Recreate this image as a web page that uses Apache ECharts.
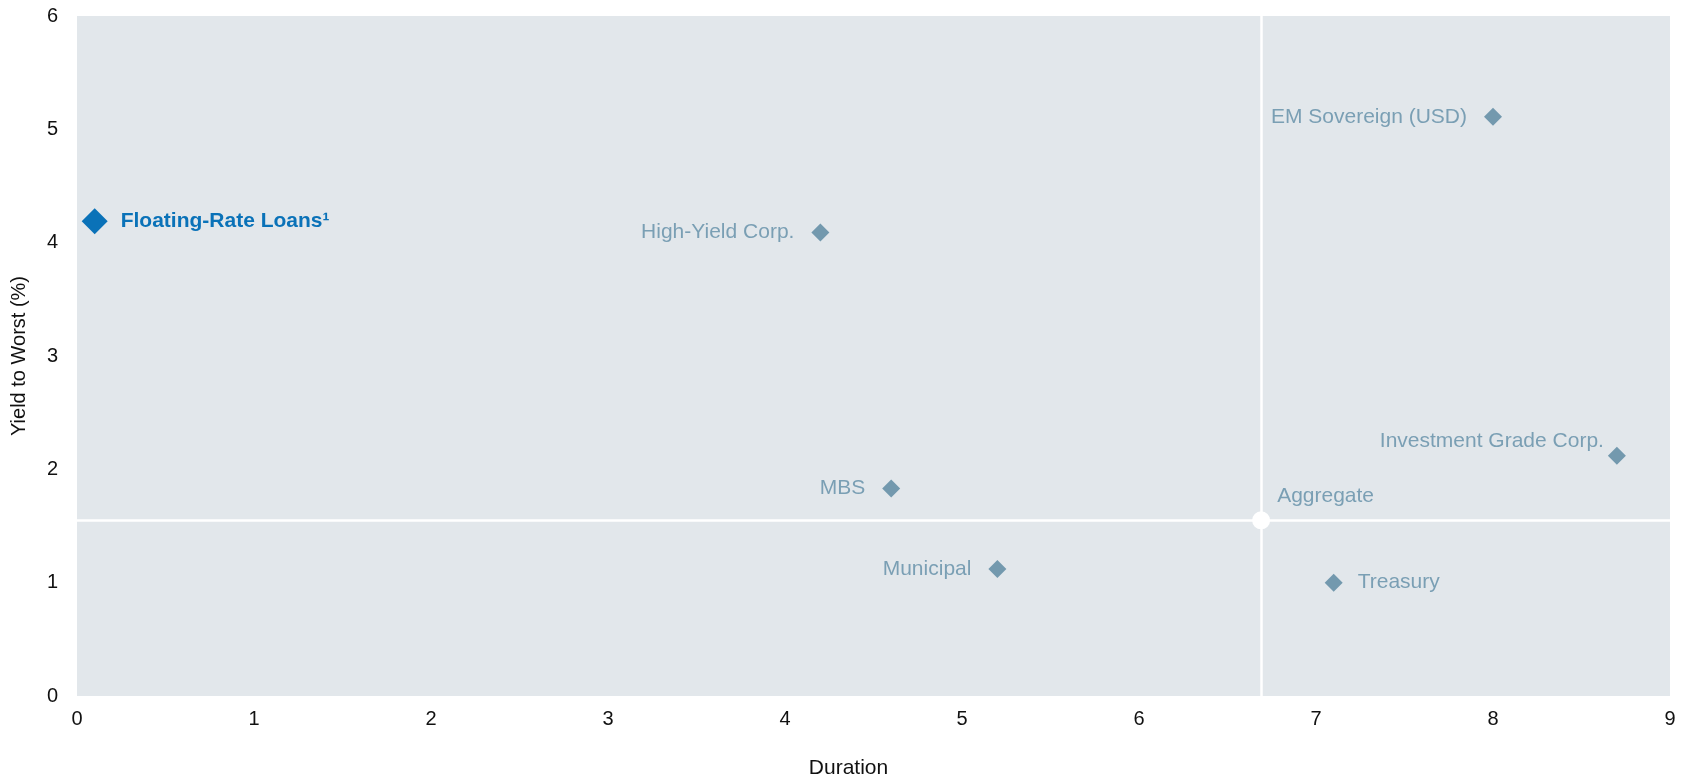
<!DOCTYPE html>
<html>
<head>
<meta charset="utf-8">
<title>Yield to Worst vs. Duration</title>
<script src="https://cdn.jsdelivr.net/npm/echarts@6/dist/echarts.min.js"></script>
<style>
  html, body { margin: 0; padding: 0; background: #ffffff; }
  #chart { width: 1688px; height: 776px; }
</style>
</head>
<body>
<div id="chart"></div>
<script>
// Sectors plotted by duration (years) and yield to worst (%)
const sectors = ['Floating-Rate Loans¹', 'High-Yield Corp.', 'EM Sovereign (USD)', 'Investment Grade Corp.', 'MBS', 'Aggregate', 'Municipal', 'Treasury'];
const duration = [0.1, 4.2, 8.0, 8.7, 4.6, 6.69, 5.2, 7.1];
const yieldToWorst = [4.19, 4.09, 5.11, 2.12, 1.83, 1.55, 1.12, 1.0];

const xTicks = [0, 1, 2, 3, 4, 5, 6, 7, 8, 9];
const yTicks = [0, 1, 2, 3, 4, 5, 6];

const HIGHLIGHT = 'Floating-Rate Loans¹';
const BENCHMARK = 'Aggregate';

const SLATE = '#7399ae';
const SLATE_TEXT = '#7a9fb4';
const BLUE = '#0a72b8';
const FONT = '"Liberation Sans", Arial, sans-serif';

// Label placement per sector
const labelPlacement = {
  'Floating-Rate Loans¹': { position: 'right', distance: 13 },
  'High-Yield Corp.': { position: 'left', distance: 17 },
  'EM Sovereign (USD)': { position: 'left', distance: 17 },
  'Investment Grade Corp.': { position: 'left', distance: 4, offset: [0, -15] },
  'MBS': { position: 'left', distance: 17 },
  'Aggregate': { position: 'right', distance: 7, offset: [0, -24] },
  'Municipal': { position: 'left', distance: 17 },
  'Treasury': { position: 'right', distance: 15 }
};

const points = sectors.map((name, i) => {
  const place = labelPlacement[name];
  const item = {
    name: name,
    value: [duration[i], yieldToWorst[i]],
    label: Object.assign({ show: true, formatter: '{b}' }, place)
  };
  if (name === HIGHLIGHT) {
    item.symbolSize = 26;
    item.itemStyle = { color: BLUE };
    item.label.color = BLUE;
    item.label.fontWeight = 'bold';
    item.label.fontSize = 21;
  } else if (name === BENCHMARK) {
    item.symbol = 'circle';
    item.symbolSize = 18;
    item.itemStyle = { color: '#ffffff' };
  }
  return item;
});

const aggIdx = sectors.indexOf(BENCHMARK);

const chart = echarts.init(document.getElementById('chart'), null, { renderer: 'canvas' });

chart.setOption({
  animation: false,
  backgroundColor: '#ffffff',
  textStyle: { fontFamily: FONT },
  grid: {
    left: 77, right: 18, top: 16, bottom: 80,
    outerBoundsMode: 'none',
    containLabel: false,
    show: true,
    backgroundColor: '#e2e7eb',
    borderWidth: 0
  },
  xAxis: {
    type: 'value',
    min: xTicks[0],
    max: xTicks[xTicks.length - 1],
    interval: 1,
    name: 'Duration',
    nameLocation: 'middle',
    nameGap: 62,
    nameTextStyle: { color: '#111111', fontSize: 21, fontFamily: FONT, padding: [0, 50, 0, 0] },
    axisLine: { show: false },
    axisTick: { show: false },
    splitLine: { show: false },
    axisLabel: { color: '#111111', fontSize: 20, fontFamily: FONT, margin: 13 }
  },
  yAxis: {
    type: 'value',
    min: yTicks[0],
    max: yTicks[yTicks.length - 1],
    interval: 1,
    name: 'Yield to Worst (%)',
    nameLocation: 'middle',
    nameGap: 48,
    nameTextStyle: { color: '#111111', fontSize: 20, fontFamily: FONT },
    axisLine: { show: false },
    axisTick: { show: false },
    splitLine: { show: false },
    axisLabel: { color: '#111111', fontSize: 20, fontFamily: FONT, margin: 19 }
  },
  series: [{
    type: 'scatter',
    symbol: 'diamond',
    symbolSize: 18,
    itemStyle: { color: SLATE, opacity: 1 },
    label: { color: SLATE_TEXT, fontSize: 21, fontFamily: FONT },
    data: points,
    z: 3,
    markLine: {
      silent: true,
      symbol: ['none', 'none'],
      label: { show: false },
      lineStyle: { color: '#ffffff', width: 2.5, type: 'solid' },
      data: [
        { xAxis: duration[aggIdx] },
        { yAxis: yieldToWorst[aggIdx] }
      ],
      z: 1
    }
  }]
});
</script>
</body>
</html>
